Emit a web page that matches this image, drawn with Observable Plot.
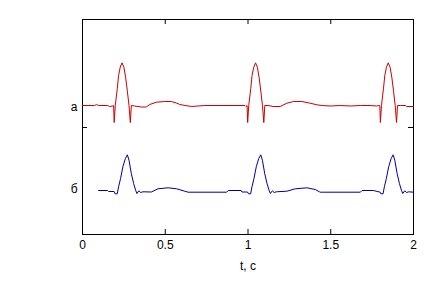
<!DOCTYPE html>
<html>
<head>
<meta charset="utf-8">
<script src="https://cdn.jsdelivr.net/npm/d3@7"></script>
<script src="https://cdn.jsdelivr.net/npm/@observablehq/plot@0.6"></script>
<style>
  html, body { margin: 0; padding: 0; background: #fff; }
</style>
</head>
<body>
<div id="chart"></div>
<script>
// Time axis ticks
const xTicks = [0, 0.5, 1, 1.5, 2];
const xTickLabels = ["0", "0.5", "1", "1.5", "2"];
const xLabel = "t, c";
// Series labels (Cyrillic) and their vertical positions
const seriesLabels = ["а", "б"];
const labelPos = [1.275, 0.45];
// Single inner y tick
const yTicks = [1.07];

// Series "а" (red): time (s) and value
const tA = [0, 0.073, 0.085, 0.097, 0.152, 0.164, 0.182, 0.188, 0.1915, 0.198, 0.210, 0.218, 0.228, 0.239, 0.250, 0.261, 0.271, 0.281, 0.289, 0.295,
  0.315, 0.356, 0.385, 0.406, 0.446, 0.497, 0.537, 0.567, 0.588, 0.620, 0.661, 0.697, 0.739, 0.800, 0.879, 0.952, 0.982, 0.988,
  0.9945, 0.998, 1.0045, 1.0165, 1.0245, 1.0345, 1.0455, 1.0565, 1.0675, 1.0775, 1.0875, 1.0955, 1.1015,
  1.121, 1.152, 1.194, 1.235, 1.275, 1.325, 1.376, 1.416, 1.448, 1.497, 1.558, 1.618, 1.679, 1.739, 1.776, 1.790,
  1.7965, 1.800, 1.8065, 1.8185, 1.8265, 1.8365, 1.8475, 1.8585, 1.8695, 1.8795, 1.8895, 1.8975, 1.9035,
  1.921, 1.952, 1.958, 2.0];
const vA = [1.29, 1.29, 1.30, 1.29, 1.29, 1.28, 1.285, 1.29, 1.12, 1.29, 1.457, 1.59, 1.673, 1.717, 1.673, 1.567, 1.433, 1.29, 1.12, 1.29,
  1.285, 1.275, 1.275, 1.30, 1.323, 1.33, 1.33, 1.315, 1.30, 1.29, 1.28, 1.285, 1.29, 1.29, 1.29, 1.29, 1.29, 1.28,
  1.29, 1.12, 1.29, 1.457, 1.59, 1.673, 1.717, 1.673, 1.567, 1.433, 1.29, 1.12, 1.29,
  1.29, 1.28, 1.28, 1.313, 1.33, 1.33, 1.313, 1.297, 1.29, 1.285, 1.29, 1.285, 1.29, 1.29, 1.285, 1.29,
  1.29, 1.12, 1.29, 1.457, 1.59, 1.673, 1.717, 1.673, 1.567, 1.433, 1.29, 1.12, 1.29,
  1.29, 1.29, 1.28, 1.28];

// Series "б" (blue): time (s) and value
const tB = [0.097, 0.152, 0.158, 0.191, 0.197, 0.210, 0.218, 0.230, 0.244, 0.259, 0.271, 0.281, 0.295, 0.309, 0.321, 0.329, 0.341, 0.352, 0.365,
  0.416, 0.456, 0.517, 0.568, 0.618, 0.638, 0.871, 0.881, 0.958, 0.964, 0.997,
  1.003, 1.016, 1.024, 1.036, 1.050, 1.065, 1.077, 1.087, 1.101, 1.115, 1.127, 1.135, 1.147, 1.158, 1.171,
  1.235, 1.285, 1.356, 1.406, 1.432, 1.436, 1.679, 1.689, 1.759, 1.780, 1.797,
  1.803, 1.816, 1.824, 1.836, 1.850, 1.865, 1.877, 1.887, 1.901, 1.915, 1.927, 1.935, 1.947, 1.958, 1.971, 2.0];
const vB = [0.44, 0.44, 0.43, 0.43, 0.407, 0.407, 0.477, 0.56, 0.677, 0.76, 0.797, 0.743, 0.61, 0.51, 0.443, 0.41, 0.437, 0.42, 0.427,
  0.425, 0.457, 0.467, 0.457, 0.433, 0.423, 0.423, 0.44, 0.44, 0.425, 0.425,
  0.407, 0.407, 0.477, 0.56, 0.677, 0.76, 0.797, 0.743, 0.61, 0.51, 0.443, 0.41, 0.437, 0.42, 0.427,
  0.433, 0.457, 0.467, 0.45, 0.427, 0.423, 0.423, 0.44, 0.44, 0.43, 0.425,
  0.407, 0.407, 0.477, 0.56, 0.677, 0.76, 0.797, 0.743, 0.61, 0.51, 0.443, 0.41, 0.437, 0.42, 0.427, 0.423];

const dataA = tA.map((t, i) => ({t, v: vA[i]}));
const dataB = tB.map((t, i) => ({t, v: vB[i]}));

const chart = Plot.plot({
  width: 437,
  height: 281,
  marginTop: 19,
  marginBottom: 47,
  marginLeft: 82,
  marginRight: 24,
  x: {domain: [0, 2]},
  y: {domain: [0, 2.15]},
  style: {fontFamily: "'Liberation Sans', Arial, sans-serif", fontSize: "12px", color: "black", background: "white"},
  marks: [
    Plot.frame({stroke: "black"}),
    Plot.tickX(xTicks, {x: d => d, insetTop: 210, stroke: "black"}),
    Plot.tickX(xTicks, {x: d => d, insetBottom: 210, stroke: "black"}),
    Plot.tickY(yTicks, {y: d => d, insetRight: 326, stroke: "black"}),
    Plot.tickY(yTicks, {y: d => d, insetLeft: 326, stroke: "black"}),
    Plot.line(dataA, {x: "t", y: "v", stroke: "#cc0000", strokeWidth: 1}),
    Plot.line(dataB, {x: "t", y: "v", stroke: "#000099", strokeWidth: 1}),
    Plot.axisX(xTicks, {tickSize: 0, tickPadding: 6, label: null, tickFormat: d => xTickLabels[xTicks.indexOf(d)]}),
    Plot.axisY(labelPos, {tickSize: 0, tickPadding: 5, label: null, tickFormat: d => seriesLabels[labelPos.indexOf(d)]}),
    Plot.text([xLabel], {frameAnchor: "bottom", dy: 32, lineAnchor: "middle", fill: "black"})
  ]
});
document.getElementById("chart").appendChild(chart);
</script>
</body>
</html>
